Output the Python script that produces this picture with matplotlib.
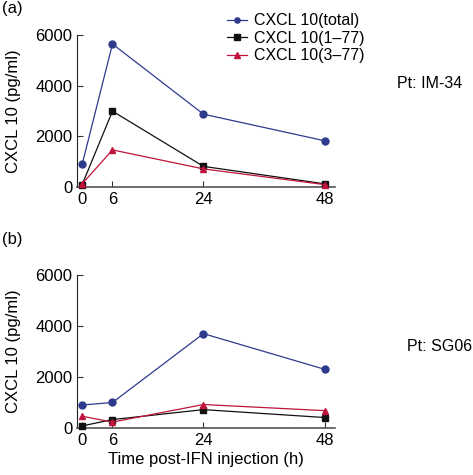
import matplotlib
matplotlib.use("Agg")
import matplotlib.pyplot as plt

times = [0, 6, 24, 48]
series_names = ["CXCL 10(total)", "CXCL 10(1\u201377)", "CXCL 10(3\u201377)"]

im34_total = [900, 5650, 2880, 1830]
im34_1_77 = [100, 3000, 820, 130]
im34_3_77 = [130, 1470, 720, 100]

sg06_total = [900, 1000, 3700, 2300]
sg06_1_77 = [80, 330, 720, 410]
sg06_3_77 = [460, 230, 920, 680]

panel_labels = ["(a)", "(b)"]
patients = ["Pt: IM-34", "Pt: SG06"]
yticks = [0, 2000, 4000, 6000]

colors = ["#2e3a8c", "#111111", "#c0143c"]
markers = ["o", "s", "^"]

plt.rcParams['font.family'] = ['Liberation Sans', 'DejaVu Sans']

fig = plt.figure(figsize=(4.73, 4.75), dpi=100)
ax1 = fig.add_axes([0.163, 0.606, 0.545, 0.320])
ax2 = fig.add_axes([0.163, 0.099, 0.545, 0.322])

data = [
    [im34_total, im34_1_77, im34_3_77],
    [sg06_total, sg06_1_77, sg06_3_77],
]
pt_pos = [(1.24, 0.68), (1.28, 0.53)]

for i, ax in enumerate([ax1, ax2]):
    handles = []
    for vals, c, m, name in zip(data[i], colors, markers, series_names):
        h, = ax.plot(times, vals, color=c, marker=m, markersize=5, lw=0.9,
                     label=name, clip_on=False, zorder=3)
        handles.append(h)
    ax.set_xlim(-1, 50)
    ax.set_ylim(0, 6000)
    ax.set_xticks(times)
    ax.set_yticks(yticks)
    ax.tick_params(direction='in', length=4, labelsize=12, width=0.8, color='#333333')
    ax.spines['top'].set_visible(False)
    ax.spines['right'].set_visible(False)
    ax.spines['left'].set_color('#222222')
    ax.spines['bottom'].set_color('#555555')
    ax.spines['bottom'].set_linewidth(1.2)
    ax.set_ylabel("CXCL 10 (pg/ml)", fontsize=12, labelpad=10)
    ax.text(pt_pos[i][0], pt_pos[i][1], patients[i], transform=ax.transAxes,
            fontsize=11.5, va='center', ha='left')
    fig.text(0.004, 0.926 + 0.04 if i == 0 else 0.421 + 0.06, panel_labels[i],
             fontsize=12, va='bottom', ha='left')
    if i == 0:
        ax.legend(handles=handles, loc='upper left', bbox_to_anchor=(0.555, 1.185),
                  frameon=False, fontsize=11.5, handlelength=1.3, handletextpad=0.4,
                  labelspacing=0.15, borderaxespad=0, markerscale=0.75)

ax2.set_xlabel("Time post-IFN injection (h)", fontsize=12, labelpad=3)

fig.savefig("out.png", dpi=100)
